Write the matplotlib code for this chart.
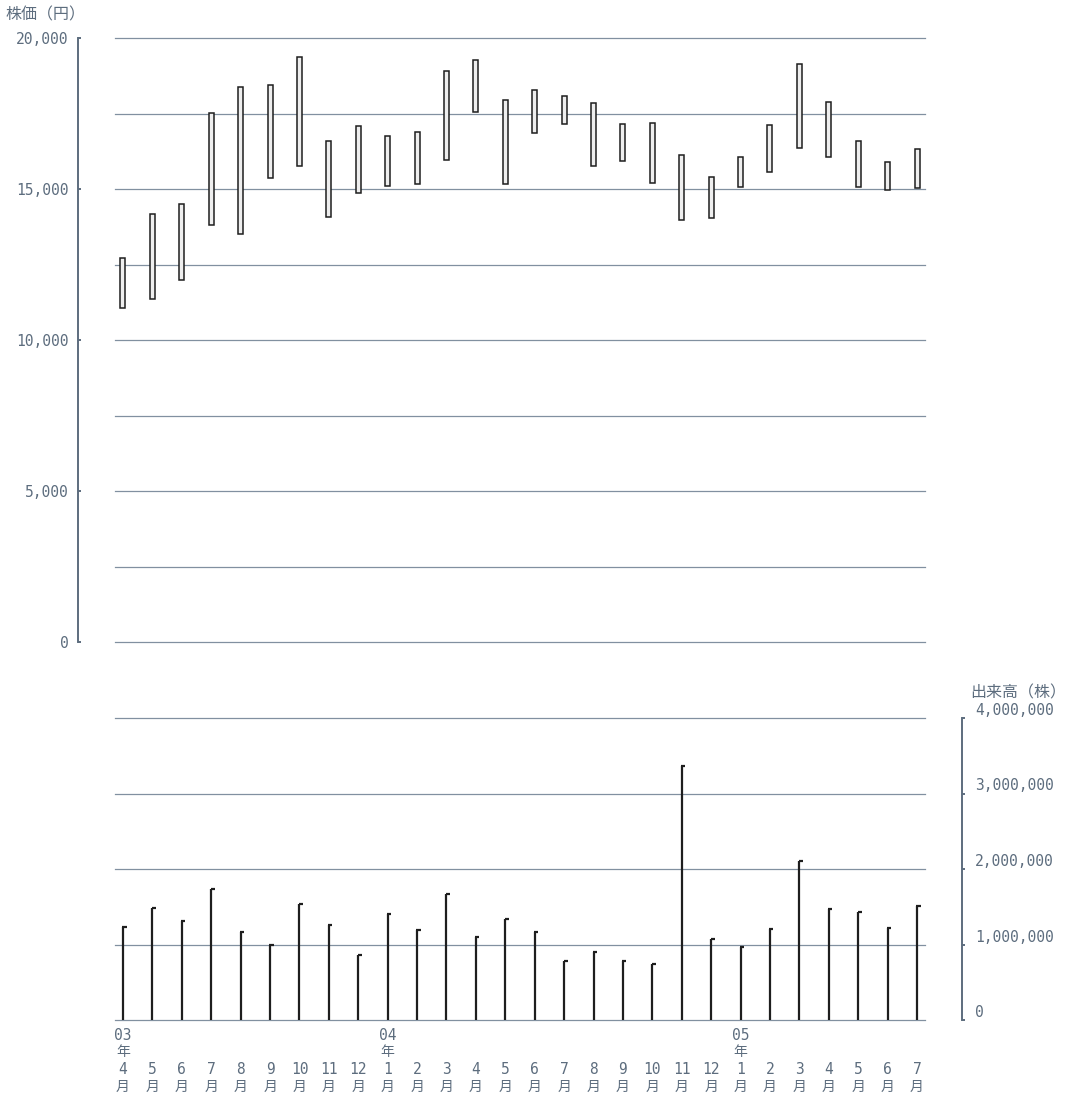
import matplotlib.pyplot as plt
import matplotlib.transforms as mtransforms
import numpy as np

plt.rcParams['font.family'] = ['DejaVu Sans Mono', 'Noto Sans CJK JP']

months = ['4', '5', '6', '7', '8', '9', '10', '11', '12',
          '1', '2', '3', '4', '5', '6', '7', '8', '9', '10', '11', '12',
          '1', '2', '3', '4', '5', '6', '7']
year_idx = [0, 9, 21]
year_text = ['03', '04', '05']

high = [12700, 14170, 14500, 17520, 18390, 18460, 19380, 16580, 17090, 16750,
        16900, 18900, 19270, 17960, 18290, 18080, 17840, 17150, 17170, 16130,
        15410, 16070, 17130, 19140, 17890, 16580, 15880, 16320]
low = [11050, 11370, 11980, 13820, 13510, 15370, 15760, 14060, 14860, 15090,
       15150, 15950, 17560, 15160, 16850, 17160, 15760, 15930, 15200, 13970,
       14050, 15070, 15560, 16360, 16060, 15050, 14980, 15020]
volume = [1230000, 1490000, 1315000, 1740000, 1165000, 995000, 1530000,
          1255000, 860000, 1410000, 1190000, 1670000, 1100000, 1340000,
          1165000, 780000, 900000, 780000, 745000, 3365000, 1075000, 970000,
          1210000, 2100000, 1475000, 1430000, 1215000, 1510000]

price_ticks = [0, 5000, 10000, 15000, 20000]
price_grid = [0, 2500, 5000, 7500, 10000, 12500, 15000, 17500, 20000]
vol_ticks = [0, 1000000, 2000000, 3000000, 4000000]

text_c = '#5d6d7e'
grid_c = '#8190a0'
bar_c = '#1e1e1e'

W, H = 1079, 1099
fig = plt.figure(figsize=(W / 100, H / 100), dpi=100)
left = 115 / W
width = 810 / W
ax = fig.add_axes([left, (H - 642) / H, width, 604 / H])
axv = fig.add_axes([left, (H - 1020) / H, width, 302 / H])

x = np.arange(len(months))
high = np.array(high)
low = np.array(low)
volume = np.array(volume)

# price: hollow range boxes
ax.bar(x, high - low, bottom=low, width=0.17, facecolor='#eeeeee',
       edgecolor=bar_c, linewidth=1.1, zorder=3)
for v in price_grid:
    ax.axhline(v, color=grid_c, lw=0.9, clip_on=False, zorder=1)
ax.set_xlim(-0.272, len(months) - 1 + 0.272)
ax.set_ylim(0, 20000)
ax.set_yticks(price_ticks)
ax.set_yticklabels([f'{v:,}' for v in price_ticks])
ax.set_xticks([])
for s in ['top', 'right', 'bottom']:
    ax.spines[s].set_visible(False)
ax.spines['left'].set_position(('outward', 26.6))
ax.spines['left'].set_color(text_c)
ax.spines['left'].set_linewidth(1.4)
ax.tick_params(axis='y', direction='in', length=2.5, width=1.4, color=text_c,
               labelcolor=text_c, labelsize=10.5, pad=7)
ax.patch.set_visible(False)

# volume: stems with a small flag
axv.vlines(x, 0, volume, color=bar_c, lw=1.6, zorder=3)
axv.hlines(volume, x - 0.02, x + 0.12, color=bar_c, lw=1.6, zorder=3)
for v in vol_ticks:
    axv.axhline(v, color=grid_c, lw=0.9, clip_on=False, zorder=1)
axv.set_xlim(-0.272, len(months) - 1 + 0.272)
axv.set_ylim(0, 4000000)
axv.yaxis.tick_right()
axv.set_yticks(vol_ticks)
axv.set_yticklabels([f'{v:,}' for v in vol_ticks])
axv.set_xticks([])
for s in ['top', 'left', 'bottom']:
    axv.spines[s].set_visible(False)
axv.spines['right'].set_position(('outward', 26.6))
axv.spines['right'].set_color(text_c)
axv.spines['right'].set_linewidth(1.4)
axv.tick_params(axis='y', direction='out', length=2.5, width=1.4, color=text_c,
                labelcolor=text_c, labelsize=10.5, pad=7)
for lab in axv.get_yticklabels():
    lab.set_verticalalignment('bottom')
axv.patch.set_visible(False)

# month / year labels under the volume panel
tr = mtransforms.blended_transform_factory(axv.transData, fig.transFigure)
for i, m in enumerate(months):
    axv.text(x[i], 1 - 1069 / H, m, transform=tr, ha='center', va='center',
             fontsize=10.5, color=text_c)
    axv.text(x[i], 1 - 1087 / H, '月', transform=tr, ha='center', va='center',
             fontsize=10, color=text_c)
for i, t in zip(year_idx, year_text):
    axv.text(x[i], 1 - 1035 / H, t, transform=tr, ha='center', va='center',
             fontsize=10.5, color=text_c)
    axv.text(x[i], 1 - 1052 / H, '年', transform=tr, ha='center', va='center',
             fontsize=10, color=text_c)

fig.text(5 / W, 1 - 15 / H, '株価（円）', ha='left', va='center',
         fontsize=11.5, color=text_c)
fig.text(970 / W, 1 - 693 / H, '出来高（株）', ha='left', va='center',
         fontsize=11.5, color=text_c)

fig.savefig('out.png', dpi=100)
